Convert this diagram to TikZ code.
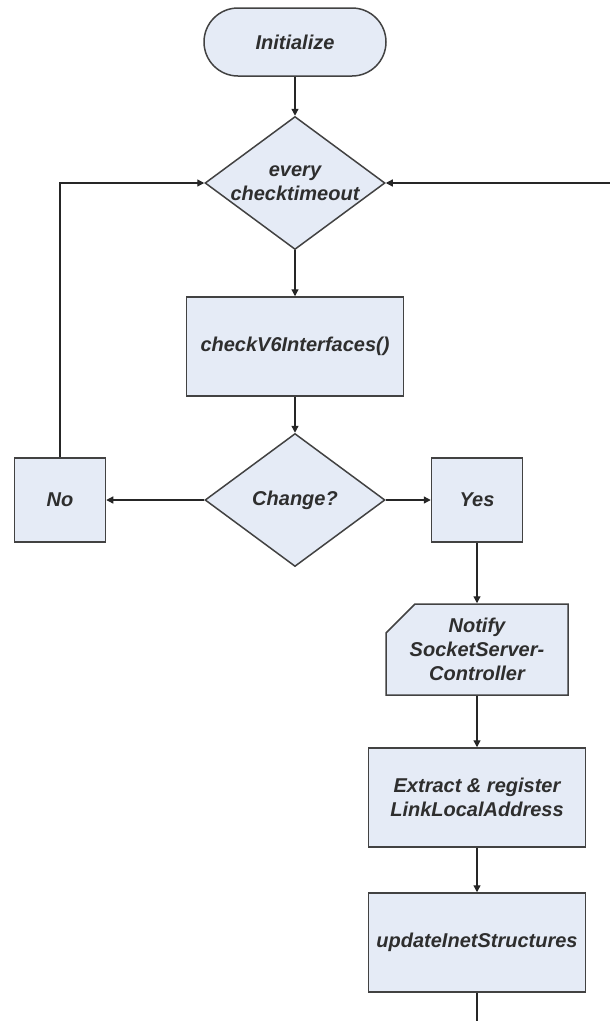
\documentclass[tikz,border=0pt]{standalone}
\usepackage{fontspec}
\setmainfont{Liberation Sans}
\usetikzlibrary{shapes.geometric,arrows.meta}

\definecolor{boxfill}{HTML}{E5EBF6}
\definecolor{boxline}{HTML}{424242}
\definecolor{flowtext}{HTML}{2E2E2E}

\tikzset{
  flowbox/.style={draw=boxline, fill=boxfill, line width=1.5pt, align=center, inner sep=0pt,
    text=flowtext, font=\fontsize{20}{24}\selectfont\bfseries\itshape},
  process/.style={flowbox, rectangle, minimum width=217pt, minimum height=99pt},
  decision/.style={flowbox, diamond, aspect=1.353, inner sep=-3pt,
    minimum width=180pt, minimum height=133pt},
  answer/.style={flowbox, rectangle, minimum width=91pt, minimum height=84pt},
  terminal/.style={flowbox, rectangle, rounded corners=34pt, minimum width=182pt, minimum height=68pt},
  flow/.style={draw=black!85, line width=1.3pt, -{Triangle[length=7pt,width=7pt]}},
}

\begin{document}
\begin{tikzpicture}[x=1pt, y=-1pt]

    % --- Page frame ---
    \useasboundingbox (0,0) rectangle (610,1021);

    % --- Main loop (left column) ---
    \node[terminal] (init) at (295,42) {Initialize};
    \node[decision] (timeout) at (295,183) {every\\checktimeout};
    \node[process] (check) at (295,346.5) {checkV6Interfaces()};
    \node[decision] (change) at (295,500) {Change?};

    % --- Branches ---
    \node[answer] (no) at (60,500) {No};
    \node[answer] (yes) at (477,500) {Yes};

    % --- Handling a change (right column) ---
    % card outline with the top left corner cut off
    \draw[draw=boxline, fill=boxfill, line width=1.5pt]
        (415,604) -- (568,604) -- (568,695) -- (386,695) -- (386,633) -- cycle;
    \node[flowbox, draw=none, fill=none, minimum width=182pt, minimum height=91pt]
        (notify) at (477,649.5) {Notify\\SocketServer-\\Controller};
    \node[process] (extract) at (477,797.5) {Extract \& register\\LinkLocalAddress};
    \node[process] (update) at (477,942.5) {updateInetStructures};

    % loose ends leaving the page
    \coordinate (back) at (610,183);
    \coordinate (onward) at (477,1021);

    % --- Connectors ---
    \draw[flow] (init) -- (timeout);
    \draw[flow] (timeout) -- (check);
    \draw[flow] (check) -- (change);
    \draw[flow] (change) -- (no);
    \draw[flow] (change) -- (yes);
    \draw[flow] (yes) -- (notify);
    \draw[flow] (notify) -- (extract);
    \draw[flow] (extract) -- (update);
    \draw[flow, -] (update) -- (onward);

    % back to the timer
    \draw[flow] (no.north) |- (timeout.west);
    \draw[flow] (back) -- (timeout.east);

\end{tikzpicture}
\end{document}
